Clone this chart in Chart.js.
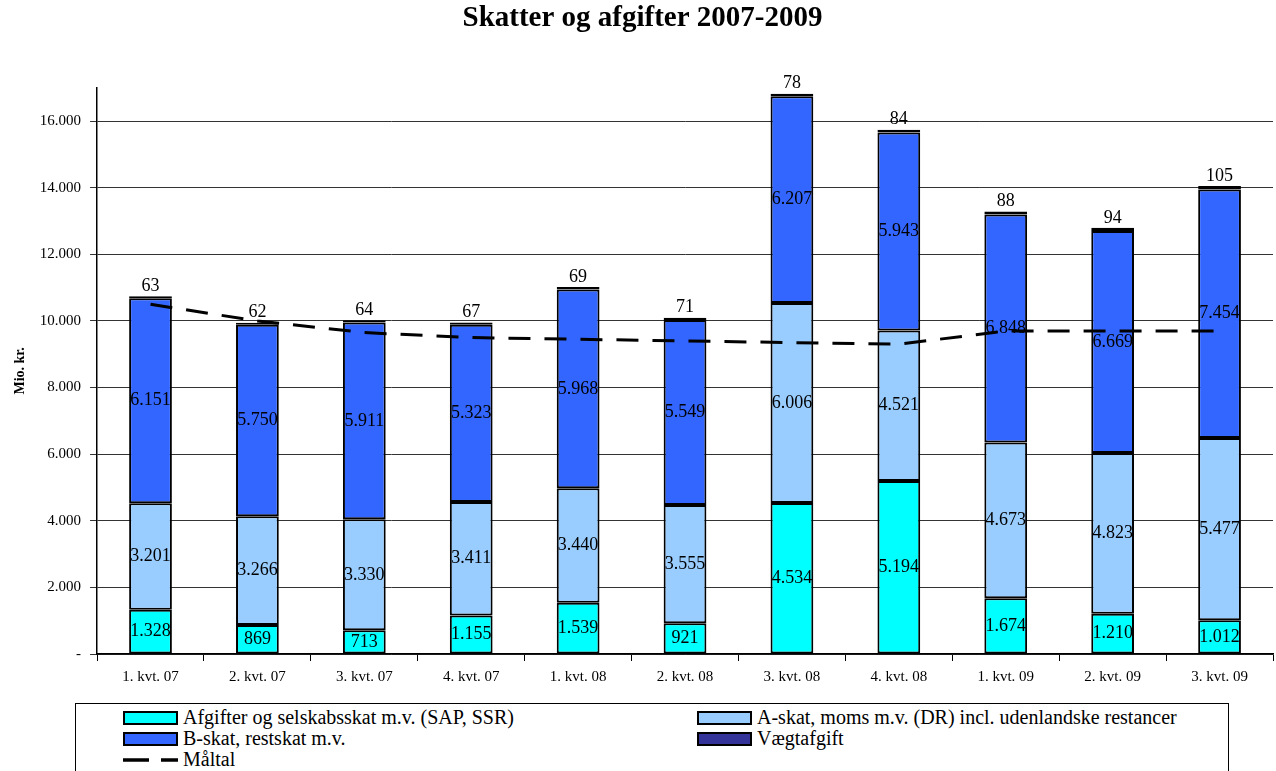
<!DOCTYPE html>
<html>
<head>
<meta charset="utf-8">
<title>Skatter og afgifter 2007-2009</title>
<script src="https://cdn.jsdelivr.net/npm/chart.js@4.4.0/dist/chart.umd.min.js"></script>
<style>
	body { margin: 0; background: #fff; }
	#wrap { position: relative; width: 1276px; height: 771px; overflow: hidden; }
	#chartBox { position: absolute; left: 0; top: 0; width: 1276px; height: 700px; }
	#legend {
		position: absolute; left: 75px; top: 703px; width: 1154px; height: 90px;
		border: 1px solid #000; box-sizing: border-box;
		padding: 3px 0 0 47px;
		display: grid; grid-template-columns: 574px auto; grid-auto-rows: 21px;
		font-family: 'Liberation Serif', 'Times New Roman', serif; font-size: 20px; color: #000;
	}
	.item { display: flex; align-items: center; white-space: nowrap; }
	.swatch { width: 51px; height: 10px; border: 2px solid #000; margin-right: 5px; }
	.item svg { margin-right: 5px; }
</style>
</head>
<body>
<div id="wrap">
	<div id="chartBox"><canvas id="skat-chart"></canvas></div>
	<div id="legend"></div>
</div>
<script>
var kvartaler = ["1. kvt. 07", "2. kvt. 07", "3. kvt. 07", "4. kvt. 07", "1. kvt. 08", "2. kvt. 08",
	"3. kvt. 08", "4. kvt. 08", "1. kvt. 09", "2. kvt. 09", "3. kvt. 09"];
var afgifter = [1328, 869, 713, 1155, 1539, 921, 4534, 5194, 1674, 1210, 1012];
var askat = [3201, 3266, 3330, 3411, 3440, 3555, 6006, 4521, 4673, 4823, 5477];
var bskat = [6151, 5750, 5911, 5323, 5968, 5549, 6207, 5943, 6848, 6669, 7454];
var vaegtafgift = [63, 62, 64, 67, 69, 71, 78, 84, 88, 94, 105];
var maaltal = [10500, 10000, 9650, 9500, 9450, 9400, 9350, 9300, 9700, 9700, 9700];
var yTicks = [0, 2000, 4000, 6000, 8000, 10000, 12000, 14000, 16000];

var serif = "'Liberation Serif', 'Times New Roman', serif";

function fmt(v) {
	if (v === 0) return "-";
	return String(Math.round(v)).replace(/\B(?=(\d{3})+(?!\d))/g, ".");
}

// tal i midten af hver blok, vaegtafgift over soejlen
var labelPlugin = {
	id: 'segmentLabels',
	afterDatasetsDraw: function(chart) {
		var ctx = chart.ctx;
		ctx.save();
		ctx.font = "18px " + serif;
		ctx.fillStyle = "#000";
		ctx.textAlign = "center";
		chart.data.datasets.forEach(function(ds, i) {
			if (ds.type === 'line') return;
			var meta = chart.getDatasetMeta(i);
			meta.data.forEach(function(bar, j) {
				var txt = fmt(ds.data[j]);
				if (ds.labelOnTop) {
					ctx.textBaseline = "bottom";
					ctx.fillText(txt, bar.x, bar.y - 1);
				} else {
					ctx.textBaseline = "middle";
					ctx.fillText(txt, bar.x, (bar.y + bar.base) / 2);
				}
			});
		});
		ctx.restore();
	}
};

function barSet(label, data, color, onTop) {
	return {
		type: 'bar',
		label: label,
		data: data,
		backgroundColor: color,
		borderColor: '#000',
		borderWidth: 2,
		borderSkipped: false,
		stack: 'skat',
		order: 1,
		barPercentage: 0.4,
		categoryPercentage: 1,
		labelOnTop: onTop
	};
}

var skat_chart = new Chart(document.getElementById("skat-chart"), {
	type: 'bar',
	data: {
		labels: kvartaler,
		datasets: [
			barSet("Afgifter og selskabsskat m.v. (SAP, SSR)", afgifter, '#00FFFF', false),
			barSet("A-skat, moms m.v. (DR) incl. udenlandske restancer", askat, '#99CCFF', false),
			barSet("B-skat, restskat m.v.", bskat, '#3366FF', false),
			barSet("Vægtafgift", vaegtafgift, '#333399', true),
			{
				type: 'line',
				label: "Måltal",
				data: maaltal,
				borderColor: '#000',
				borderWidth: 3,
				borderDash: [22, 14],
				pointRadius: 0,
				fill: false,
				tension: 0,
				stack: 'maal',
				order: 0
			}
		]
	},
	options: {
		responsive: true,
		maintainAspectRatio: false,
		animation: false,
		layout: { padding: { left: 12, right: 3, top: 0, bottom: 7 } },
		plugins: {
			legend: { display: false },
			tooltip: { enabled: false },
			title: {
				display: true,
				text: "Skatter og afgifter 2007-2009",
				color: '#000',
				font: { family: serif, size: 29, weight: 'bold' },
				padding: { top: 1, bottom: 52 }
			}
		},
		scales: {
			x: {
				stacked: true,
				grid: { offset: true, drawOnChartArea: false, color: '#000', tickLength: 7 },
				border: { color: '#000', width: 1.5 },
				ticks: { color: '#000', font: { family: serif, size: 15 }, padding: 7, maxRotation: 0 }
			},
			y: {
				stacked: true,
				min: 0,
				max: 17000,
				afterBuildTicks: function(scale) {
					scale.ticks = yTicks.map(function(v) { return { value: v }; });
				},
				grid: { color: '#333', lineWidth: 1, tickLength: 7 },
				border: { color: '#000', width: 1.5 },
				ticks: {
					autoSkip: false,
					color: '#000',
					padding: 9,
					font: { family: serif, size: 15 },
					callback: function(v) { return fmt(v); }
				},
				title: {
					display: true,
					text: "Mio. kr.",
					color: '#000',
					font: { family: serif, size: 14, weight: 'bold' },
					padding: { top: 0, bottom: 2 }
				}
			}
		}
	},
	plugins: [labelPlugin]
});

// forklaring under diagrammet
var legend = document.getElementById("legend");
skat_chart.data.datasets.forEach(function(ds) {
	var item = document.createElement("div");
	item.className = "item";
	if (ds.type === 'line') {
		item.innerHTML = '<svg width="55" height="14"><line x1="0" y1="7" x2="55" y2="7" stroke="#000" stroke-width="3.5" stroke-dasharray="26 12"/></svg>';
	} else {
		var sw = document.createElement("span");
		sw.className = "swatch";
		sw.style.background = ds.backgroundColor;
		item.appendChild(sw);
	}
	var txt = document.createElement("span");
	txt.textContent = ds.label;
	item.appendChild(txt);
	legend.appendChild(item);
});
</script>
</body>
</html>
